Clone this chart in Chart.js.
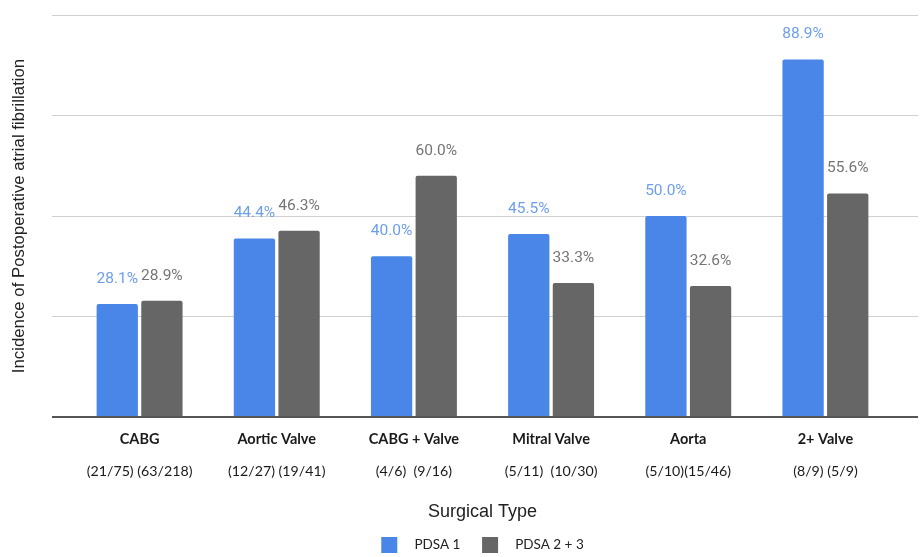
<!DOCTYPE html>
<html>
<head>
<meta charset="utf-8">
<title>Incidence of Postoperative Atrial Fibrillation by Surgical Type</title>
<script src="https://cdn.jsdelivr.net/npm/chart.js@4.4.0/dist/chart.umd.min.js"></script>
<style>
  html, body { margin: 0; padding: 0; background: #ffffff; }
  #wrap { width: 922px; height: 557px; position: relative; }
</style>
</head>
<body>
<div id="wrap"><canvas id="chart"></canvas></div>
<script>
// Surgical categories and the patient counts (events / patients) for each PDSA cycle
const surgicalTypes = ['CABG', 'Aortic Valve', 'CABG + Valve', 'Mitral Valve', 'Aorta', '2+ Valve'];
const patientCounts = ['(21/75) (63/218)', '(12/27) (19/41)', '(4/6)  (9/16)', '(5/11)  (10/30)', '(5/10)(15/46)', '(8/9) (5/9)'];

// Incidence (%) per cycle
const pdsa1 = [28.1, 44.4, 40.0, 45.5, 50.0, 88.9];
const pdsa23 = [28.9, 46.3, 60.0, 33.3, 32.6, 55.6];

// Value axis range
const yMin = 0;
const yMax = 100;
const yStep = 25;

// Horizontal guide lines that run a little past the plot on both sides
const extendedGrid = {
  id: 'extendedGrid',
  beforeDatasetsDraw(chart, args, opts) {
    const { ctx, chartArea, scales } = chart;
    const y = scales.y;
    const x0 = chartArea.left - opts.extendLeft;
    const x1 = chartArea.right + opts.extendRight;
    ctx.save();
    ctx.strokeStyle = opts.color;
    ctx.lineWidth = 1;
    for (let v = yMin + yStep; v <= yMax; v += yStep) {
      const py = Math.round(y.getPixelForValue(v)) + 0.5;
      ctx.beginPath();
      ctx.moveTo(x0, py);
      ctx.lineTo(x1, py);
      ctx.stroke();
    }
    ctx.restore();
  },
  afterDatasetsDraw(chart, args, opts) {
    const { ctx, chartArea, scales } = chart;
    const y = scales.y;
    const py = y.getPixelForValue(yMin);
    ctx.save();
    ctx.strokeStyle = opts.baseColor;
    ctx.lineWidth = opts.baseWidth;
    ctx.beginPath();
    ctx.moveTo(chartArea.left - opts.extendLeft, py);
    ctx.lineTo(chartArea.right + opts.extendRight, py);
    ctx.stroke();
    ctx.restore();
  }
};

// Percentage labels above each bar
const barValueLabels = {
  id: 'barValueLabels',
  afterDatasetsDraw(chart, args, opts) {
    const { ctx } = chart;
    ctx.save();
    ctx.font = opts.font;
    ctx.textAlign = 'center';
    ctx.textBaseline = 'middle';
    chart.data.datasets.forEach((ds, di) => {
      const meta = chart.getDatasetMeta(di);
      meta.data.forEach((bar, i) => {
        ctx.fillStyle = ds.labelColor;
        ctx.fillText(ds.data[i].toFixed(1) + '%', bar.x, bar.y - opts.offset);
      });
    });
    ctx.restore();
  }
};

new Chart(document.getElementById('chart'), {
  type: 'bar',
  data: {
    labels: surgicalTypes,
    datasets: [
      {
        label: 'PDSA 1',
        data: pdsa1,
        backgroundColor: '#4a86e8',
        labelColor: '#6d9eeb',
        borderWidth: 0,
        borderRadius: 2,
        categoryPercentage: 0.651,
        barPercentage: 0.925
      },
      {
        label: 'PDSA 2 + 3',
        data: pdsa23,
        backgroundColor: '#666666',
        labelColor: '#757575',
        borderWidth: 0,
        borderRadius: 2,
        categoryPercentage: 0.651,
        barPercentage: 0.925
      }
    ]
  },
  options: {
    responsive: true,
    maintainAspectRatio: false,
    animation: false,
    layout: { padding: { left: 5, right: 28, top: 15, bottom: -6 } },
    scales: {
      x: {
        type: 'category',
        offset: true,
        weight: 0,
        grid: { display: false, drawTicks: false },
        border: { display: false },
        ticks: {
          font: { family: 'Lato', weight: 'bold', size: 14.5 },
          color: '#1a1a1a',
          padding: 14,
          maxRotation: 0,
          autoSkip: false
        }
      },
      x2: {
        type: 'category',
        labels: patientCounts,
        position: 'bottom',
        offset: true,
        weight: 1,
        grid: { display: false, drawTicks: false },
        border: { display: false },
        ticks: {
          font: { family: 'Lato', size: 14.2 },
          color: '#1a1a1a',
          padding: 1,
          maxRotation: 0,
          autoSkip: false
        },
        title: {
          display: true,
          text: 'Surgical Type',
          font: { family: 'Liberation Sans', size: 18 },
          color: '#222222',
          padding: { top: 20, bottom: 13 }
        }
      },
      y: {
        min: yMin,
        max: yMax,
        grid: { display: false, drawTicks: false },
        border: { display: false },
        ticks: { display: false, stepSize: yStep },
        title: {
          display: true,
          text: 'Incidence of Postoperative atrial fibrillation',
          font: { family: 'Liberation Sans', size: 16.8 },
          color: '#222222'
        },
        afterFit(scale) { scale.width = 66; }
      }
    },
    plugins: {
      legend: {
        position: 'bottom',
        fullSize: false,
        labels: {
          boxWidth: 16,
          boxHeight: 16,
          padding: 1,
          color: '#222222',
          font: { family: 'Lato', size: 13.5 },
          generateLabels(chart) {
            const items = Chart.defaults.plugins.legend.labels.generateLabels(chart);
            items.forEach((it, i) => {
              it.text = '   ' + it.text + (i < items.length - 1 ? '      ' : '');
              it.lineWidth = 0;
            });
            return items;
          }
        }
      },
      tooltip: { enabled: false },
      extendedGrid: { extendLeft: 19, extendRight: 24, color: '#d0d0d0', baseColor: '#555555', baseWidth: 2 },
      barValueLabels: { font: '15.5px Roboto', offset: 25 }
    }
  },
  plugins: [extendedGrid, barValueLabels]
});
</script>
</body>
</html>
